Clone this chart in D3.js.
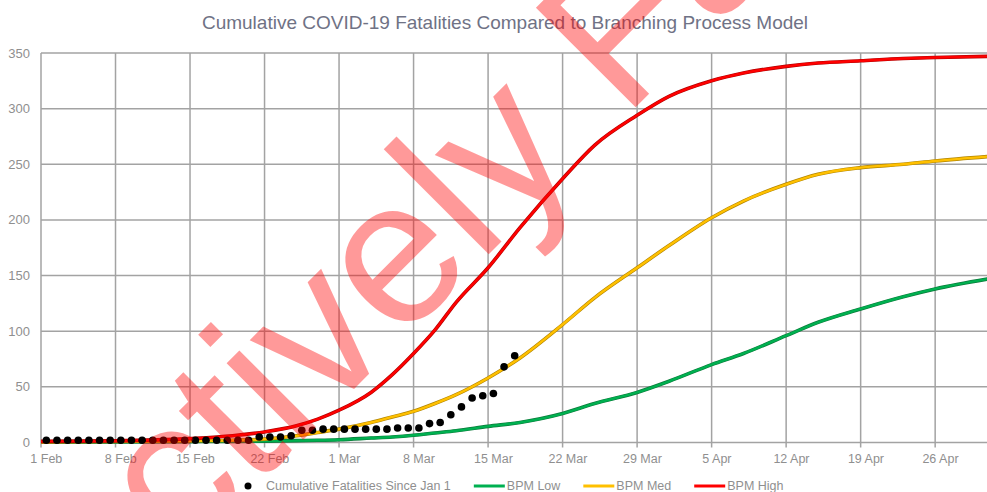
<!DOCTYPE html>
<html>
<head>
<meta charset="utf-8">
<script src="https://cdn.jsdelivr.net/npm/d3@7/dist/d3.min.js"></script>
<style>
  body { margin: 0; background: #fff; }
  svg { display: block; font-family: "Liberation Sans", Arial, sans-serif; }
</style>
</head>
<body>
<svg width="987" height="492"></svg>
<script>
// x axis tick labels, one every 7 days from 1 Feb
const tickLabels = ["1 Feb", "8 Feb", "15 Feb", "22 Feb", "1 Mar", "8 Mar", "15 Mar",
                    "22 Mar", "29 Mar", "5 Apr", "12 Apr", "19 Apr", "26 Apr"];
const yTicks = [0, 50, 100, 150, 200, 250, 300, 350];

// observed cumulative fatalities, one value per day starting 1 Feb
const fatalities = [2, 2, 2, 2, 2, 2, 2, 2, 2, 2,
                    2, 2, 2, 2, 2, 2, 2, 2, 2, 2,
                    5, 5, 5, 6, 11, 11, 12, 12, 12, 12,
                    12, 12, 12, 13, 13, 13, 17, 18, 25, 32,
                    40, 42, 44, 68, 78];

// branching process model, sampled at these day numbers (0 = 1 Feb)
const modelDays = [0, 7, 14, 18, 21, 24, 26, 28, 31, 33, 35, 37, 39, 42, 45, 49,
                   52, 56, 59, 63, 66, 70, 73, 77, 81, 84, 89];
const bpmLow  = [0.3, 0.5, 0.8, 1, 1.2, 1.7, 2, 2.5, 4, 5, 6.5, 8.5, 10.5, 14.5, 18, 26,
                 35, 45, 55, 70, 80, 96, 108, 120, 131, 138, 147];
const bpmMed  = [0.5, 1, 1.5, 2, 3, 6, 9, 12, 18, 23, 28, 35, 43, 58, 76, 106,
                 130, 157, 177, 202, 217, 232, 241, 247, 250, 253, 257];
const bpmHigh = [1, 1.5, 3.5, 6, 9.5, 15, 21, 29, 45, 61, 80, 101, 126, 157, 193, 237,
                 267, 294, 311, 325, 332, 338, 341, 343, 345, 346, 347];

const seriesNames = ["Cumulative Fatalities Since Jan 1", "BPM Low", "BPM Med", "BPM High"];
const lineColors = ["#00b050", "#ffc000", "#ff0000"];
const lineEdges  = ["#0a7a3a", "#b08400", "#b00000"];

const svg = d3.select("svg"),
      width = +svg.attr("width"),
      height = +svg.attr("height");

const plotLeft = 41, plotRight = 987, plotTop = 53, plotBottom = 442.5;

const x = d3.scaleLinear().domain([0, 88.87]).range([plotLeft, plotRight]);
const y = d3.scaleLinear().domain([0, 350]).range([plotBottom, plotTop]);

// title
svg.append("text")
    .attr("x", 505)
    .attr("y", 29)
    .attr("text-anchor", "middle")
    .style("font-size", "19px")
    .style("fill", "#6f7285")
    .text("Cumulative COVID-19 Fatalities Compared to Branching Process Model");

// horizontal gridlines
svg.append("g")
  .selectAll("line")
  .data(yTicks)
  .enter().append("line")
    .attr("x1", plotLeft)
    .attr("x2", plotRight)
    .attr("y1", d => y(d))
    .attr("y2", d => y(d))
    .attr("stroke", "#a3a3a3")
    .attr("stroke-width", 1.5);

// vertical gridlines (with small tick marks under the axis)
const tickDays = tickLabels.map((t, i) => i * 7);
svg.append("g")
  .selectAll("line")
  .data(tickDays)
  .enter().append("line")
    .attr("x1", d => x(d))
    .attr("x2", d => x(d))
    .attr("y1", plotTop)
    .attr("y2", plotBottom + 5)
    .attr("stroke", "#a3a3a3")
    .attr("stroke-width", 1.5);

// y tick labels
svg.append("g")
  .selectAll("text")
  .data(yTicks)
  .enter().append("text")
    .attr("x", 30)
    .attr("y", d => y(d))
    .attr("dy", "0.35em")
    .attr("text-anchor", "end")
    .style("font-size", "13px")
    .style("fill", "#8f8f8f")
    .text(d => d);

// x tick labels, centred on the day
svg.append("g")
  .selectAll("text")
  .data(tickLabels)
  .enter().append("text")
    .attr("x", (d, i) => x(i * 7 + 0.5))
    .attr("y", 463)
    .attr("text-anchor", "middle")
    .style("font-size", "12.5px")
    .style("fill", "#8f8f8f")
    .text(d => d);

// model lines
const line = d3.line()
    .x(d => x(d.day))
    .y(d => y(d.v))
    .curve(d3.curveMonotoneX);

[bpmLow, bpmMed, bpmHigh].forEach((vals, i) => {
  const pts = modelDays.map((day, j) => ({day: day, v: vals[j]}));
  svg.append("path")
      .datum(pts)
      .attr("fill", "none")
      .attr("stroke", lineEdges[i])
      .attr("stroke-width", 3.6)
      .attr("d", line);
  svg.append("path")
      .datum(pts)
      .attr("fill", "none")
      .attr("stroke", lineColors[i])
      .attr("stroke-width", 2.4)
      .attr("d", line);
});

// observed points
svg.append("g")
  .selectAll("circle")
  .data(fatalities)
  .enter().append("circle")
    .attr("cx", (d, i) => x(i + 0.5))
    .attr("cy", d => y(d))
    .attr("r", 3.8)
    .attr("fill", "#000");

// legend, laid out left to right and centred under the plot
const legend = svg.append("g");
let cursor = 0;
seriesNames.forEach((name, i) => {
  const g = legend.append("g");
  let textX;
  if (i === 0) {
    g.append("circle").attr("cx", cursor + 3.5).attr("cy", 486).attr("r", 3.5).attr("fill", "#000");
    textX = cursor + 21.5;
  } else {
    g.append("line")
        .attr("x1", cursor).attr("x2", cursor + 31)
        .attr("y1", 486).attr("y2", 486)
        .attr("stroke", lineColors[i - 1])
        .attr("stroke-width", 3);
    textX = cursor + 33;
  }
  const t = g.append("text")
      .attr("x", textX)
      .attr("y", 490)
      .style("font-size", "12.5px")
      .style("fill", "#8f8f8f")
      .text(name);
  cursor = textX + t.node().getComputedTextLength() + 23;
});
const legendWidth = cursor - 23;
legend.attr("transform", `translate(${(plotLeft + plotRight) / 2 - legendWidth / 2},0)`);

// semi-transparent watermark across the chart
const wm = svg.append("text")
    .attr("transform", "translate(495,248) rotate(-45)")
    .style("font-size", "205px")
    .style("fill", "#ff0000")
    .style("fill-opacity", 0.4)
    .text("Effectively Fake");
// put the stem of the "l" on the anchor point
const beforeL = wm.node().getSubStringLength(0, 9);
wm.attr("x", -(beforeL + 0.111 * 205));
</script>
</body>
</html>
